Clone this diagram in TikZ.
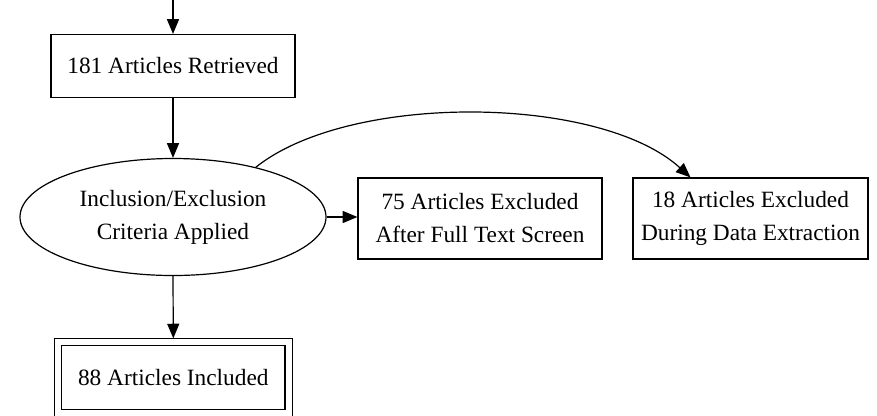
\documentclass[tikz,border=0pt]{standalone}
\usepackage{fontspec}
\setmainfont{Liberation Serif}
\usetikzlibrary{arrows.meta}
\usetikzlibrary{shapes.geometric}

\begin{document}
\begin{tikzpicture}[x=0.75pt,y=-0.75pt,
    stage/.style={draw,line width=0.9pt,align=center,inner sep=0pt,
        font=\fontsize{17.5}{24.75}\selectfont},
    flow/.style={-{Triangle[length=11pt,width=9pt]},line width=0.9pt}]
    \useasboundingbox (0,0) rectangle (877,415);
    \coordinate (start) at (173,-4);
    \node[stage,minimum width=183pt,minimum height=47.25pt] (retrieved) at (173,66) {181 Articles Retrieved};
    \node[stage,ellipse,minimum width=229.5pt,minimum height=87.75pt] (criteria) at (173,217) {Inclusion/Exclusion\\Criteria Applied};
    \node[stage,minimum width=183pt,minimum height=60.75pt] (fulltext) at (480,218.5) {75 Articles Excluded\\After Full Text Screen};
    \node[stage,minimum width=176.25pt,minimum height=60.75pt] (extraction) at (750.5,218.5) {18 Articles Excluded\\During Data Extraction};
    \node[stage,double,double distance=4.4pt,outer sep=2.7pt,minimum width=172.9pt,minimum height=53.25pt] (included) at (173.3,377.5) {88 Articles Included};
    % arrows
    \draw[flow] (start) -- (retrieved.north);
    \draw[flow] (retrieved.south) -- (criteria.north);
    \draw[flow] (criteria.east) -- (criteria.east -| fulltext.west);
    \draw[flow] (criteria.south) -- (included.north);
    \draw[flow] (criteria.31) .. controls (350,92) and (600,95) .. ([xshift=-45pt]extraction.north);
\end{tikzpicture}
\end{document}
